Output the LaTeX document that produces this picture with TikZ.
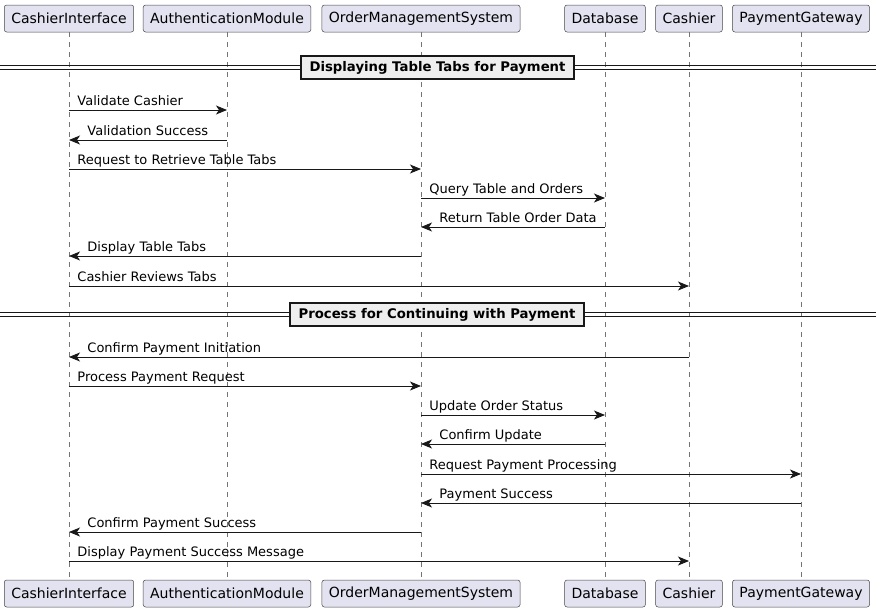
\documentclass[tikz,border=0pt]{standalone}
\usepackage{fontspec}
\setmainfont{DejaVu Sans}
\usetikzlibrary{arrows.meta}
\definecolor{boxfill}{HTML}{E2E2F0}
\definecolor{linecol}{HTML}{181818}
\definecolor{divfill}{HTML}{EEEEEE}

\begin{document}
\begin{tikzpicture}[x=1pt, y=-1pt, >={Stealth[length=11pt, width=9pt, inset=3pt]},
  actor/.style={draw=linecol!80, fill=boxfill, rounded corners=2.5pt, minimum height=27pt, inner xsep=7pt, line width=0.5pt, font=\fontsize{14}{16}\selectfont},
  life/.style={draw=linecol!60, dash pattern=on 5pt off 5pt, line width=0.5pt},
  msg/.style={draw=linecol, ->, line width=0.9pt},
  lbl/.style={font=\fontsize{13}{15}\selectfont, inner sep=0pt},
  divider/.style={draw=linecol, fill=divfill, line width=1.5pt, minimum height=23pt, inner xsep=8.5pt, font=\bfseries\fontsize{13.25}{15}\selectfont},
  dline/.style={draw=linecol, line width=1pt}]
  \useasboundingbox (0,0) rectangle (881,613);

  % participants, top and bottom
  \node[actor] (ciT) at (69,18.5) {CashierInterface};
  \node[actor] (amT) at (227,18.5) {AuthenticationModule};
  \node[actor] (omsT) at (421,18.5) {OrderManagementSystem};
  \node[actor] (dbT) at (605,18.5) {Database};
  \node[actor] (caT) at (689,18.5) {Cashier};
  \node[actor] (pgT) at (801,18.5) {PaymentGateway};
  \node[actor] (ciB) at (69,593.5) {CashierInterface};
  \node[actor] (amB) at (227,593.5) {AuthenticationModule};
  \node[actor] (omsB) at (421,593.5) {OrderManagementSystem};
  \node[actor] (dbB) at (605,593.5) {Database};
  \node[actor] (caB) at (689,593.5) {Cashier};
  \node[actor] (pgB) at (801,593.5) {PaymentGateway};

  % lifelines
  \draw[life] (ciT) -- (ciB);
  \draw[life] (amT) -- (amB);
  \draw[life] (omsT) -- (omsB);
  \draw[life] (dbT) -- (dbB);
  \draw[life] (caT) -- (caB);
  \draw[life] (pgT) -- (pgB);

  % first section
  \draw[dline] (0,65) -- (876,65);
  \draw[dline] (0,69) -- (876,69);
  \node[divider] (div1) at (437.5,67.5) {Displaying Table Tabs for Payment};

  \draw[msg] (ciT |- 0,110) -- node[lbl, pos=0, anchor=base west, xshift=8pt, yshift=5pt] (m1) {Validate Cashier} (amT |- 0,110);
  \draw[msg] (amT |- 0,140) -- node[lbl, pos=1, anchor=base west, xshift=18pt, yshift=5pt] (m2) {Validation Success} (ciT |- 0,140);
  \draw[msg] (ciT |- 0,169) -- node[lbl, pos=0, anchor=base west, xshift=8pt, yshift=5pt] (m3) {Request to Retrieve Table Tabs} (omsT |- 0,169);
  \draw[msg] (omsT |- 0,198) -- node[lbl, pos=0, anchor=base west, xshift=8pt, yshift=5pt] (m4) {Query Table and Orders} (dbT |- 0,198);
  \draw[msg] (dbT |- 0,227) -- node[lbl, pos=1, anchor=base west, xshift=18pt, yshift=5pt] (m5) {Return Table Order Data} (omsT |- 0,227);
  \draw[msg] (omsT |- 0,256) -- node[lbl, pos=1, anchor=base west, xshift=18pt, yshift=5pt] (m6) {Display Table Tabs} (ciT |- 0,256);
  \draw[msg] (ciT |- 0,286) -- node[lbl, pos=0, anchor=base west, xshift=8pt, yshift=5pt] (m7) {Cashier Reviews Tabs} (caT |- 0,286);

  % second section
  \draw[dline] (0,312.5) -- (876,312.5);
  \draw[dline] (0,316.5) -- (876,316.5);
  \node[divider] (div2) at (437,314.5) {Process for Continuing with Payment};

  \draw[msg] (caT |- 0,357) -- node[lbl, pos=1, anchor=base west, xshift=18pt, yshift=5pt] (m8) {Confirm Payment Initiation} (ciT |- 0,357);
  \draw[msg] (ciT |- 0,386) -- node[lbl, pos=0, anchor=base west, xshift=8pt, yshift=5pt] (m9) {Process Payment Request} (omsT |- 0,386);
  \draw[msg] (omsT |- 0,415) -- node[lbl, pos=0, anchor=base west, xshift=8pt, yshift=5pt] (m10) {Update Order Status} (dbT |- 0,415);
  \draw[msg] (dbT |- 0,444) -- node[lbl, pos=1, anchor=base west, xshift=18pt, yshift=5pt] (m11) {Confirm Update} (omsT |- 0,444);
  \draw[msg] (omsT |- 0,474) -- node[lbl, pos=0, anchor=base west, xshift=8pt, yshift=5pt] (m12) {Request Payment Processing} (pgT |- 0,474);
  \draw[msg] (pgT |- 0,503) -- node[lbl, pos=1, anchor=base west, xshift=18pt, yshift=5pt] (m13) {Payment Success} (omsT |- 0,503);
  \draw[msg] (omsT |- 0,532) -- node[lbl, pos=1, anchor=base west, xshift=18pt, yshift=5pt] (m14) {Confirm Payment Success} (ciT |- 0,532);
  \draw[msg] (ciT |- 0,561) -- node[lbl, pos=0, anchor=base west, xshift=8pt, yshift=5pt] (m15) {Display Payment Success Message} (caT |- 0,561);
\end{tikzpicture}
\end{document}
